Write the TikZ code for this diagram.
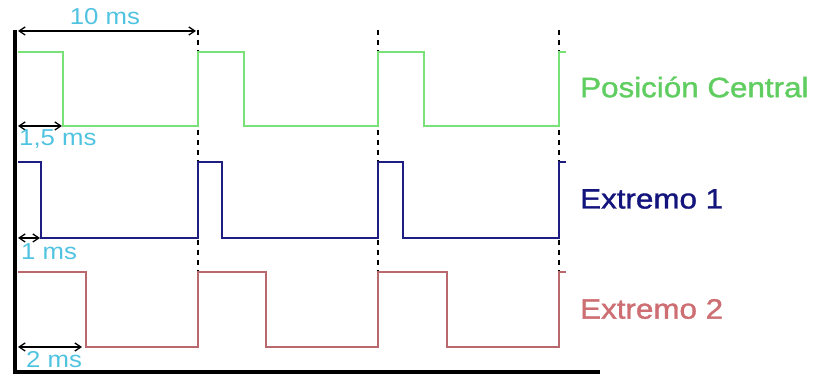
\documentclass[tikz,border=0pt]{standalone}
\usepackage{fontspec}
\setmainfont{Liberation Sans}
\newfontfamily\heavyfont[FakeBold=1.2]{Liberation Sans}
\usetikzlibrary{arrows.meta}
\definecolor{sgreen}{RGB}{120,225,120}
\definecolor{tgreen}{RGB}{95,205,95}
\definecolor{snavy}{RGB}{30,30,130}
\definecolor{tnavy}{RGB}{20,20,125}
\definecolor{sred}{RGB}{185,105,110}
\definecolor{tred}{RGB}{205,110,115}
\definecolor{tcyan}{RGB}{80,195,225}
\tikzset{
  axisline/.style={line width=4.5pt, black},
  sig/.style={line width=1.6pt, line join=miter},
  guide/.style={black, line width=2pt, dash pattern=on 5pt off 5pt},
  dim/.style={black, line width=1.3pt, {Straight Barb[length=6pt,width=8pt]}-{Straight Barb[length=6pt,width=8pt]}},
  small/.style={inner sep=0pt, text=tcyan, font=\fontsize{23}{25}\selectfont},
  big/.style={inner sep=0pt, anchor=west, font=\heavyfont\fontsize{28}{30}\selectfont},
}
\newcommand{\wide}[1]{\scalebox{1.12}[1]{#1}}
\begin{document}
\begin{tikzpicture}[x=1pt,y=-1pt]
\useasboundingbox (0,0) rectangle (817,379);
% axes
\coordinate (top) at (15,30);
\coordinate (corner) at (15,372);
\coordinate (right) at (600,372);
\draw[axisline] (top) -- (corner);
\draw[axisline] (12.75,372) -- (right);
% guides
\foreach \x/\n in {198/a,378/b,559/c}{
  \coordinate (g\n1) at (\x,30);
  \coordinate (g\n2) at (\x,272);
  \draw[guide] (g\n1) -- (g\n2);
}
% signals
\draw[sig, sgreen] (18,52) -- (63,52) -- (63,126) -- (198,126) -- (198,52) -- (244,52) -- (244,126) -- (378,126) -- (378,52) -- (424,52) -- (424,126) -- (559,126) -- (559,52) -- (566,52);
\draw[sig, snavy] (18,162) -- (41,162) -- (41,238) -- (198,238) -- (198,162) -- (222,162) -- (222,238) -- (378,238) -- (378,162) -- (403,162) -- (403,238) -- (559,238) -- (559,162) -- (566,162);
\draw[sig, sred] (18,272) -- (86,272) -- (86,347) -- (198,347) -- (198,272) -- (266,272) -- (266,347) -- (378,347) -- (378,272) -- (447,272) -- (447,347) -- (559,347) -- (559,272) -- (566,272);
% dimension arrows
\coordinate (d1a) at (18,31);  \coordinate (d1b) at (196,31);
\coordinate (d2a) at (18,126); \coordinate (d2b) at (62,126);
\coordinate (d3a) at (18,238); \coordinate (d3b) at (40,238);
\coordinate (d4a) at (18,347); \coordinate (d4b) at (82,347);
\draw[dim] (d1a) -- (d1b);
\draw[dim] (d2a) -- (d2b);
\draw[dim] (d3a) -- (d3b);
\draw[dim] (d4a) -- (d4b);
% small labels
\node[small] (l10) at (105,17) {\wide{10 ms}};
\node[small, anchor=west] (l15) at (19,139) {\wide{1,5 ms}};
\node[small, anchor=west] (l1) at (21,252) {\wide{1 ms}};
\node[small, anchor=west] (l2) at (26,360) {\wide{2 ms}};
% big labels
\node[big, text=tgreen] (pc) at (580,87) {\wide{Posición Central}};
\node[big, text=tnavy] (e1) at (580,199) {\wide{Extremo 1}};
\node[big, text=tred] (e2) at (580,309) {\wide{Extremo 2}};
\end{tikzpicture}
\end{document}
